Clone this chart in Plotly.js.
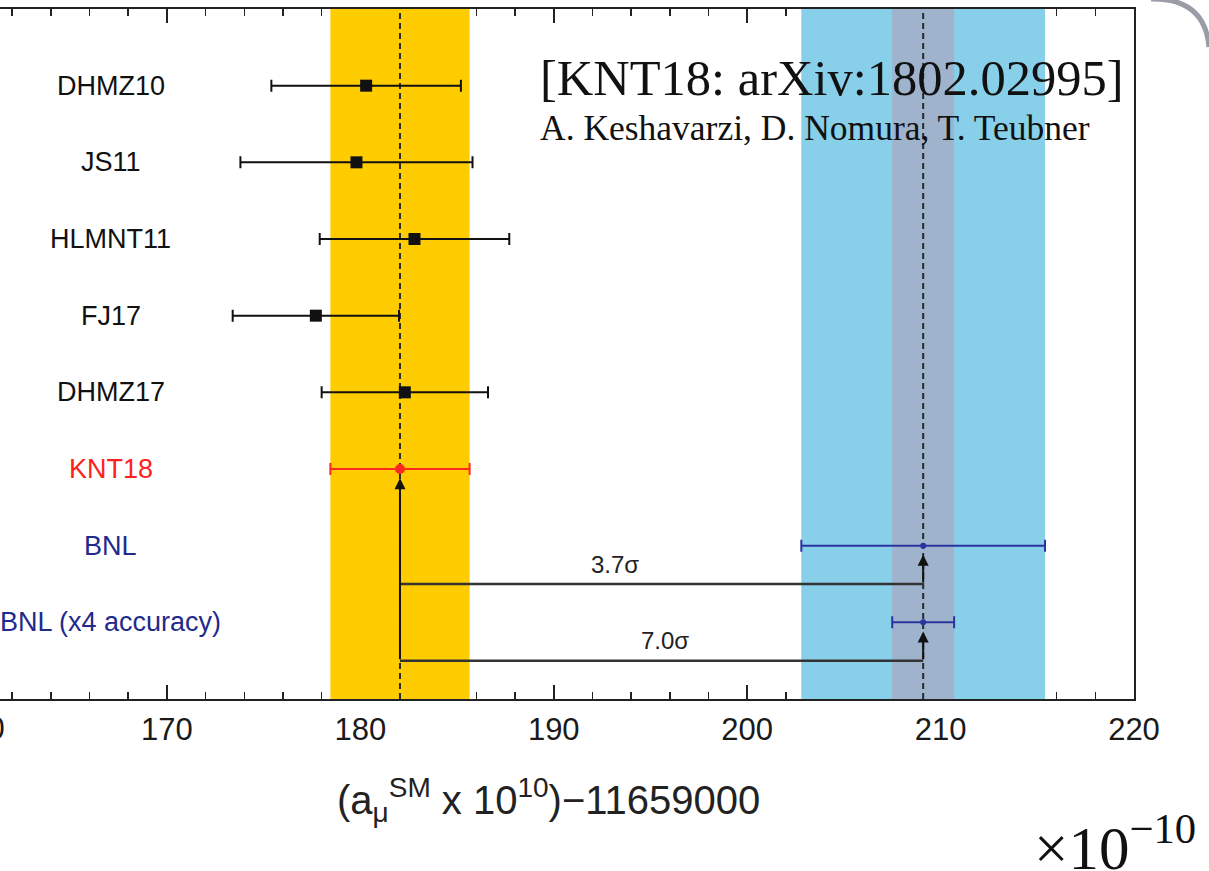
<!DOCTYPE html>
<html>
<head>
<meta charset="utf-8">
<script src="https://cdn.plot.ly/plotly-3.0.1.min.js"></script>
<style>
  html, body { margin: 0; padding: 0; background: #ffffff; }
  #chart { width: 1209px; height: 871px; }
</style>
</head>
<body>
<div id="chart"></div>
<script>
// ---- data ----
const categories = ['DHMZ10', 'JS11', 'HLMNT11', 'FJ17', 'DHMZ17', 'KNT18', 'BNL', 'BNL (x4 accuracy)'];
const values     = [180.3, 179.8, 182.8, 177.7, 182.3, 182.05, 209.1, 209.1];
const errors     = [4.9, 6.0, 4.9, 4.3, 4.3, 3.6, 6.3, 1.6];
const rowPos     = [8, 7, 6, 5, 4, 3, 2, 1];
const groups     = ['other', 'other', 'other', 'other', 'other', 'knt', 'bnl', 'bnl'];

const xRange = [161.37, 220];
const yRange = [0, 9];
const xTickStep = 10;
const xMinorStep = 2;
const hiddenTickLabel = '160';   // only its last digit shows at the left edge

const sigmaLabels  = ['3.7σ', '7.0σ'];
const sigmaTarget  = [6, 7];          // index into categories
const sigmaLineY   = [1.5, 0.5];
const sigmaLabelX  = [193.15, 195.75];
const sigmaLabelY  = [1.75, 0.76];
const sigmaSource  = 5;               // KNT18
const arrowGap     = 0.12;

const refText1 = '[KNT18: arXiv:1802.02995]';
const refText2 = 'A. Keshavarzi, D. Nomura, T. Teubner';
const xTitle = '(a<sub>μ</sub><sup>SM</sup> x 10<sup>10</sup>)−11659000';
const scaleText = '×10<sup>−10</sup>';

// ---- styles ----
const groupStyle = {
  other: { color: '#111111', symbol: 'square', size: 12, label: '#111111' },
  knt:   { color: '#ff2a1f', symbol: 'circle', size: 10, label: '#ff2020' },
  bnl:   { color: '#2a35a0', symbol: 'circle', size: 6,  label: '#1f2a8a' }
};
const sansFont = 'Liberation Sans, Arial, sans-serif';
const serifFont = 'Liberation Serif, Times New Roman, serif';

const knt = values[sigmaSource], kntErr = errors[sigmaSource];
const bnlIdx = 6, bnl4Idx = 7;

function band(lo, hi, color) {
  return {
    x: [lo, hi, hi, lo, lo], y: [yRange[0], yRange[0], yRange[1], yRange[1], yRange[0]],
    mode: 'lines', fill: 'toself', fillcolor: color, line: { width: 0 },
    hoverinfo: 'skip', showlegend: false
  };
}
function vline(x) {
  return {
    x: [x, x], y: [yRange[0], yRange[1]], mode: 'lines',
    line: { color: '#2a2a2a', width: 2, dash: '6px,4px' }, hoverinfo: 'skip', showlegend: false
  };
}

const traces = [];
traces.push(band(values[bnlIdx] - errors[bnlIdx], values[bnlIdx] + errors[bnlIdx], '#88cfea'));
traces.push(band(values[bnl4Idx] - errors[bnl4Idx], values[bnl4Idx] + errors[bnl4Idx], '#9fb3cc'));
traces.push(band(knt - kntErr, knt + kntErr, '#ffcc00'));
traces.push(vline(knt));
traces.push(vline(values[bnlIdx]));

// sigma connector horizontal lines
sigmaLabels.forEach((lab, i) => {
  traces.push({
    x: [knt, values[sigmaTarget[i]]], y: [sigmaLineY[i], sigmaLineY[i]],
    mode: 'lines', line: { color: '#333333', width: 2.5 }, hoverinfo: 'skip', showlegend: false
  });
});

// points with error bars, per group
['other', 'knt', 'bnl'].forEach(g => {
  const idx = categories.map((c, i) => i).filter(i => groups[i] === g);
  const st = groupStyle[g];
  traces.push({
    x: idx.map(i => values[i]), y: idx.map(i => rowPos[i]),
    mode: 'markers', type: 'scatter',
    marker: { color: st.color, symbol: st.symbol, size: st.size },
    error_x: { type: 'data', array: idx.map(i => errors[i]), visible: true,
               color: st.color, thickness: 2, width: 6 },
    hoverinfo: 'skip', showlegend: false
  });
});

const annotations = [];
// category labels
categories.forEach((c, i) => {
  annotations.push({
    x: 167.1, y: rowPos[i], xref: 'x', yref: 'y', text: c, showarrow: false,
    xanchor: 'center', yanchor: 'middle',
    font: { family: sansFont, size: 27, color: groupStyle[groups[i]].label }
  });
});
// main vertical arrow from lowest connector up to KNT18
annotations.push({
  x: knt, y: rowPos[sigmaSource] - arrowGap, ax: knt, ay: Math.min(...sigmaLineY),
  xref: 'x', yref: 'y', axref: 'x', ayref: 'y', text: '', showarrow: true,
  arrowhead: 2, arrowsize: 1.1, arrowwidth: 2, arrowcolor: '#111111'
});
sigmaLabels.forEach((lab, i) => {
  const t = sigmaTarget[i];
  annotations.push({
    x: values[t], y: rowPos[t] - arrowGap, ax: values[t], ay: sigmaLineY[i],
    xref: 'x', yref: 'y', axref: 'x', ayref: 'y', text: '', showarrow: true,
    arrowhead: 2, arrowsize: 1.1, arrowwidth: 2, arrowcolor: '#111111'
  });
  annotations.push({
    x: sigmaLabelX[i], y: sigmaLabelY[i], xref: 'x', yref: 'y', text: lab, showarrow: false,
    xanchor: 'center', yanchor: 'middle',
    font: { family: sansFont, size: 24, color: '#222222' }
  });
});
// tick label that lies just outside the visible range (only its last digit shows)
annotations.push({
  x: -0.0185, y: -0.043, xref: 'paper', yref: 'paper', text: hiddenTickLabel, showarrow: false,
  xanchor: 'center', yanchor: 'middle',
  font: { family: sansFont, size: 31, color: '#1a1a1a' }
});
// reference text
annotations.push({
  x: 0.474, y: 0.9, xref: 'paper', yref: 'paper', text: refText1, showarrow: false,
  xanchor: 'left', yanchor: 'middle',
  font: { family: serifFont, size: 50.5, color: '#111111' }
});
annotations.push({
  x: 0.474, y: 0.8275, xref: 'paper', yref: 'paper', text: refText2, showarrow: false,
  xanchor: 'left', yanchor: 'middle',
  font: { family: serifFont, size: 35.5, color: '#111111' }
});
// axis title
annotations.push({
  x: 0.484, y: -0.1464, xref: 'paper', yref: 'paper', text: xTitle, showarrow: false,
  xanchor: 'center', yanchor: 'middle',
  font: { family: sansFont, size: 40, color: '#222222' }
});
// scale factor
annotations.push({
  x: 1.0564, y: -0.209, xref: 'paper', yref: 'paper', text: scaleText, showarrow: false,
  xanchor: 'right', yanchor: 'middle',
  font: { family: serifFont, size: 61, color: '#111111' }
});

const layout = {
  width: 1209, height: 871,
  margin: { l: 0, r: 75, t: 9, b: 172 },
  paper_bgcolor: '#ffffff', plot_bgcolor: '#ffffff',
  font: { family: sansFont, color: '#222222' },
  showlegend: false,
  xaxis: {
    range: xRange, tick0: 160, dtick: xTickStep, ticks: 'inside', ticklen: 14, tickwidth: 2,
    tickcolor: '#222222', showline: true, linewidth: 2, linecolor: '#222222', mirror: 'ticks',
    showgrid: false, zeroline: false, layer: 'below traces',
    tickfont: { family: sansFont, size: 31, color: '#1a1a1a' },
    ticklabelstandoff: 2,
    minor: { dtick: xMinorStep, ticks: 'inside', ticklen: 7, tickwidth: 1.5, tickcolor: '#222222', showgrid: false }
  },
  yaxis: {
    range: yRange, showticklabels: false, ticks: '', showgrid: false, zeroline: false,
    showline: true, linewidth: 2, linecolor: '#222222', mirror: true, layer: 'below traces'
  },
  annotations: annotations,
  shapes: [{
    type: 'path', xref: 'paper', yref: 'paper',
    path: 'M 1.0150 1.0145 Q 1.0625 1.016 1.0661 0.945',
    line: { color: '#9a9ca6', width: 5 }
  }]
};

Plotly.newPlot('chart', traces, layout, { displayModeBar: false, staticPlot: true });
</script>
</body>
</html>
